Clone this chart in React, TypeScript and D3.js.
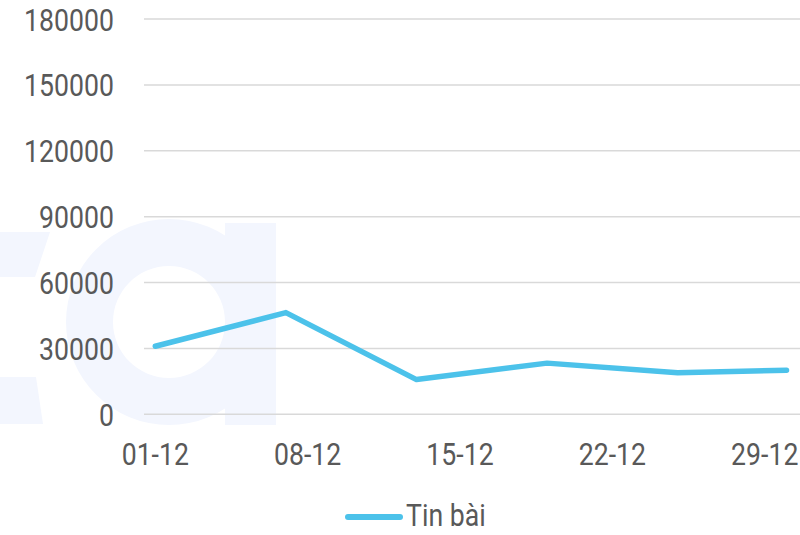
import React from "react";
import * as d3 from "d3";

const seriesName = "Tin bài";
const days = [1, 7, 13, 19, 25, 30];
const values = [31000, 46300, 15800, 23300, 18900, 20100];
const xTickDays = [1, 8, 15, 22, 29];
const xTickLabels = ["01-12", "08-12", "15-12", "22-12", "29-12"];
const yTicks = [0, 30000, 60000, 90000, 120000, 150000, 180000];

const W = 800;
const H = 535;
const textColor = "#595959";
const lineColor = "#4cc2ea";
const gridColor = "#d9d9d9";
const wmColor = "#f3f6fe";
const FONT = "Roboto, 'Noto Sans', sans-serif";
const SX = 0.86;

export default function App() {
  const x = d3.scaleLinear().domain([1, 30]).range([155.3, 786.5]);
  const y = d3.scaleLinear().domain([0, 180000]).range([414.3, 19]);
  const pts = days.map((d, i) => [x(d), y(values[i])] as [number, number]);
  const line = d3.line<[number, number]>().x((p) => p[0]).y((p) => p[1]);

  return (
    <svg
      width={W}
      height={H}
      style={{ position: "absolute", left: 0, top: 0, background: "#fff" }}
    >
      {/* watermark */}
      <g fill={wmColor}>
        <polygon points="0,232 50,232 35,277 0,277" />
        <polygon points="0,377 36,377 43,424 0,424" />
        <path
          d="M169,219 A103,103 0 1,0 169,425 A103,103 0 1,0 169,219 Z M169,266 A56,56 0 1,1 169,378 A56,56 0 1,1 169,266 Z"
          fillRule="evenodd"
        />
        <rect x={225} y={223} width={51} height={202} />
      </g>
      {/* gridlines */}
      {yTicks.map((t) => (
        <line
          key={t}
          x1={144}
          x2={W}
          y1={y(t)}
          y2={y(t)}
          stroke={gridColor}
          strokeWidth={1.5}
        />
      ))}
      {/* y labels */}
      {yTicks.map((t) => (
        <text
          key={"yl" + t}
          transform={`translate(114,${y(t) + 11.5}) scale(${SX},1)`}
          textAnchor="end"
          fontFamily={FONT}
          fontSize={31}
          fill={textColor}
        >
          {t}
        </text>
      ))}
      {/* x labels */}
      {xTickDays.map((d, i) => (
        <text
          key={"xl" + d}
          transform={`translate(${x(d)},465) scale(${SX},1)`}
          textAnchor="middle"
          fontFamily={FONT}
          fontSize={31}
          fill={textColor}
        >
          {xTickLabels[i]}
        </text>
      ))}
      {/* series */}
      <path
        d={line(pts) || ""}
        fill="none"
        stroke={lineColor}
        strokeWidth={5.5}
        strokeLinejoin="round"
        strokeLinecap="round"
      />
      {/* legend */}
      <line
        x1={348}
        x2={400}
        y1={517}
        y2={517}
        stroke={lineColor}
        strokeWidth={6}
        strokeLinecap="round"
      />
      <text
        transform={`translate(406,526) scale(${SX},1)`}
        fontFamily={FONT}
        fontSize={31}
        fill={textColor}
      >
        {seriesName}
      </text>
    </svg>
  );
}
